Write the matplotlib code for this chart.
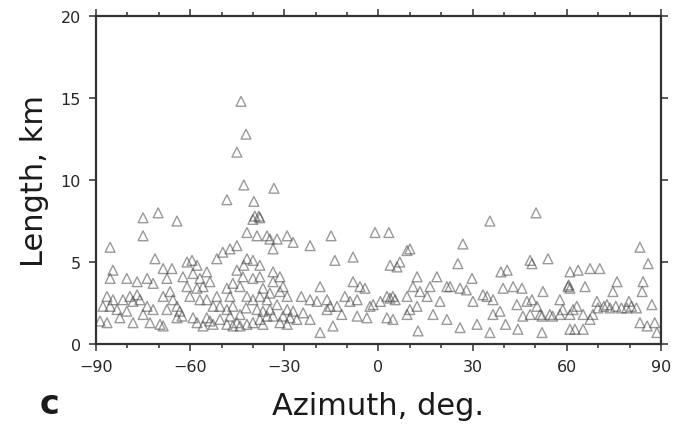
import numpy as np
import matplotlib
matplotlib.use('Agg')
from matplotlib import pyplot as plt
from matplotlib.ticker import MultipleLocator

# azimuth (deg) / length (km), split in three parts
west_az = [-43.8, -42.2, -45.1, -42.9, -33.3, -48.3, -39.7, -39.4, -38.1, -75.0,
	-70.2, -64.2, -75.0, -85.5, -41.9, -38.7, -35.5, -32.3, -29.1, -27.2,
	-40.0, -37.8, -34.6, -33.6, -21.8, -71.2, -68.6, -65.8, -84.6, -85.5,
	-80.2, -76.9, -73.7, -71.8, -86.5, -84.6, -87.8, -85.5, -83.3, -88.7,
	-86.5, -81.4, -79.2, -76.9, -78.2, -76.0, -80.2, -82.4, -78.2, -73.7,
	-71.8, -72.8, -69.6, -68.6, -68.6, -66.4, -65.5, -67.4, -64.2, -63.3,
	-62.6, -61.0, -59.4, -57.8, -62.3, -59.1, -56.9, -54.7, -61.0, -57.8,
	-55.9, -53.7, -60.1, -56.9, -54.7, -57.8, -55.9, -53.7, -52.7, -54.7,
	-52.7, -50.5, -48.3, -46.4, -47.3, -45.1, -44.1, -46.4, -41.9, -46.4,
	-44.1, -51.5, -49.6, -47.3, -45.1, -41.9, -40.0, -37.8, -43.2, -40.0,
	-37.8, -41.9, -40.0, -37.8, -35.5, -38.7, -36.8, -34.6, -35.5, -37.8,
	-33.6, -40.0, -36.8, -33.6, -31.4, -33.6, -30.4, -31.4, -29.1, -29.1,
	-27.2, -28.2, -26.0, -30.4, -24.6, -21.8, -51.5, -47.3, -48.3, -44.1,
	-42.2, -32.3, -31.4, -29.1, -36.8, -34.6, -50.5, -48.3, -59.1, -64.2,
	-75.0, -67.4, -45.1, -42.9, -21.8, -24.0]
west_len = [14.8, 12.8, 11.7, 9.7, 9.5, 8.8, 8.7, 7.8, 7.8, 7.7,
	8.0, 7.5, 6.6, 5.9, 6.8, 6.6, 6.6, 6.4, 6.6, 6.2,
	7.6, 7.7, 6.4, 5.8, 6.0, 5.2, 4.6, 4.6, 4.5, 4.0,
	4.0, 3.8, 4.0, 3.7, 2.9, 2.7, 2.3, 2.3, 2.1, 1.4,
	1.3, 2.7, 2.9, 3.0, 2.6, 2.7, 2.0, 1.6, 1.3, 2.3,
	2.1, 1.3, 1.2, 1.1, 2.9, 3.2, 2.7, 2.1, 2.3, 2.0,
	1.7, 5.0, 5.1, 4.8, 4.1, 4.3, 4.0, 4.4, 3.5, 3.4,
	3.5, 3.8, 2.9, 2.7, 2.7, 1.3, 1.1, 1.4, 1.2, 1.6,
	2.3, 2.3, 2.1, 2.3, 1.7, 1.3, 1.1, 1.1, 1.2, 3.7,
	3.5, 5.2, 5.6, 5.8, 6.0, 5.2, 5.1, 4.8, 4.1, 4.0,
	4.1, 2.9, 2.7, 2.9, 2.7, 2.1, 2.0, 2.1, 1.7, 1.5,
	1.7, 1.3, 1.2, 4.4, 4.1, 3.8, 3.5, 3.2, 2.9, 2.1,
	2.0, 1.6, 1.5, 1.7, 2.9, 2.7, 2.9, 2.9, 3.4, 1.8,
	2.2, 2.4, 1.3, 1.2, 3.4, 3.1, 1.5, 1.2, 1.6, 1.6,
	1.8, 4.0, 4.5, 4.8, 1.5, 1.9]

mid_az = [-18.6, -19.6, -16.4, -15.4, -16.4, -13.2, -15.1, -13.9, -8.1, -18.6,
	-14.5, -10.7, -9.1, -8.1, -5.9, -4.3, -6.8, -1.7, -2.7, -6.8,
	-3.7, -1.1, 3.3, 5.9, 3.7, 6.8, 9.1, 10.0, 2.7, 3.7,
	5.3, 4.6, 2.7, 4.6, 0.6, 9.1, 11.0, 13.2, 12.3, 10.0,
	12.3, 9.1, 12.6, 16.4, 15.5, 18.6, 19.6, 17.4, 21.8, 21.8,
	22.8, 26.0, 25.3, 26.9, 29.8, 28.0, 26.0, 31.4, 33.3, 34.6,
	36.5, 35.5, 35.5, 38.7, 36.5, 39.0, 30.1, -11.7]
mid_len = [3.5, 2.6, 2.7, 2.3, 2.1, 2.3, 6.6, 5.1, 5.3, 0.7,
	1.1, 2.9, 2.6, 3.8, 3.5, 3.4, 2.7, 2.4, 2.3, 1.7,
	1.6, 6.8, 6.8, 4.7, 4.8, 5.0, 5.7, 5.8, 2.9, 2.8,
	2.7, 2.9, 1.6, 1.5, 2.6, 2.9, 3.5, 3.2, 4.1, 2.1,
	2.3, 1.8, 0.8, 3.5, 2.9, 4.1, 2.6, 1.8, 1.5, 3.5,
	3.5, 3.4, 4.9, 6.1, 4.0, 3.3, 1.0, 1.2, 3.0, 2.9,
	2.7, 7.5, 0.7, 2.0, 1.8, 4.4, 2.6, 1.8]

east_az = [41.0, 39.7, 42.9, 45.7, 44.1, 47.3, 48.9, 48.3, 46.0, 48.9,
	48.3, 50.2, 54.0, 52.4, 50.5, 51.5, 52.1, 54.6, 55.5, 57.8,
	57.8, 58.7, 60.4, 61.0, 60.6, 61.0, 63.6, 67.4, 70.5, 65.8,
	63.2, 61.0, 62.0, 65.2, 67.4, 68.3, 69.6, 72.8, 74.7, 76.0,
	69.9, 71.8, 73.8, 75.6, 77.4, 79.1, 80.6, 82.2, 79.8, 83.3,
	85.9, 84.3, 84.0, 87.1, 83.3, 85.6, 88.7, 61.0, 65.2, 62.6,
	52.1, 44.4, 40.5, 88.0]
east_len = [4.5, 3.4, 3.5, 3.4, 2.4, 2.6, 2.7, 1.8, 1.7, 4.9,
	5.1, 8.0, 5.2, 3.2, 2.3, 1.8, 1.7, 1.8, 1.7, 1.8,
	2.7, 2.1, 3.5, 3.4, 3.6, 4.4, 4.5, 4.6, 4.6, 3.5,
	2.3, 1.8, 2.1, 1.8, 1.5, 1.8, 2.6, 2.4, 3.2, 3.8,
	2.2, 2.3, 2.2, 2.3, 2.2, 2.2, 2.3, 2.2, 2.6, 5.9,
	4.9, 3.8, 3.2, 2.4, 1.3, 1.1, 0.7, 0.9, 0.9, 0.9,
	0.7, 0.9, 1.2, 1.3]

azimuth = np.array(west_az + mid_az + east_az)
length = np.array(west_len + mid_len + east_len)

fig = plt.figure(figsize=(6.75, 4.27), dpi=100)
ax = fig.add_axes([0.1422, 0.192, 0.8370, 0.768])

ax.scatter(azimuth, length, marker='^', s=50, facecolors='none',
	edgecolors='0.28', linewidths=1.0, alpha=0.55)

ax.set_xlim(-90, 90)
ax.set_ylim(0, 20)
ax.xaxis.set_major_locator(MultipleLocator(30))
ax.xaxis.set_minor_locator(MultipleLocator(10))
ax.yaxis.set_major_locator(MultipleLocator(5))

for s in ax.spines.values():
	s.set_linewidth(1.6)
	s.set_color('0.2')
ax.tick_params(which='both', direction='out', top=True, right=True,
	color='0.25', width=1.2)
ax.tick_params(which='major', length=5, labelsize=11.5, pad=6)
ax.tick_params(which='minor', length=3)
ax.tick_params(labelright=False, labeltop=False)
for lab in ax.get_xticklabels() + ax.get_yticklabels():
	lab.set_color('0.15')

ax.set_xlabel('Azimuth, deg.', fontsize=22, labelpad=12, color='0.1')
ax.set_ylabel('Length, km', fontsize=22, labelpad=8, color='0.1')

fig.text(0.058, 0.03, 'c', fontsize=24, fontweight='bold', color='0.1',
	va='baseline', ha='left')

fig.savefig('out.png', dpi=100)
